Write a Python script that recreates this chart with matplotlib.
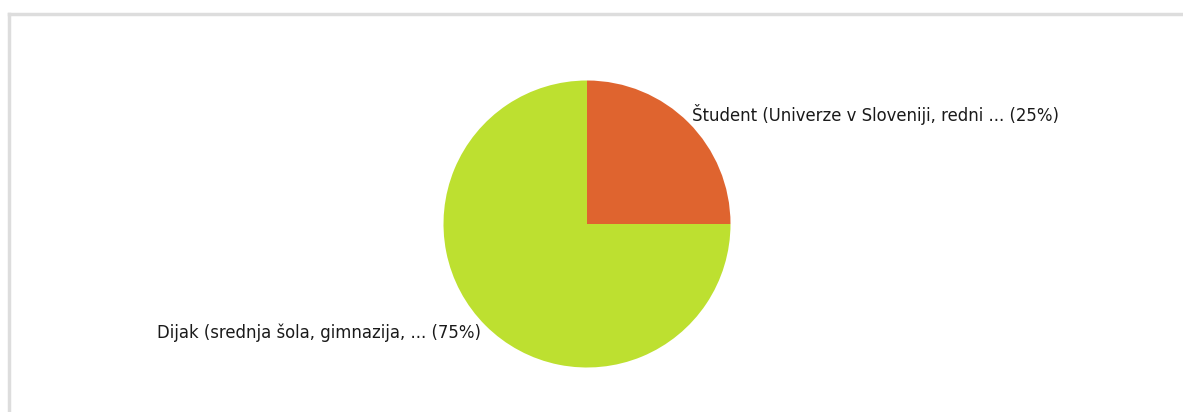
import matplotlib.pyplot as plt
from matplotlib.lines import Line2D

# data
categories = ["Študent (Univerze v Sloveniji, redni ...", "Dijak (srednja šola, gimnazija, ..."]
shares = [25, 75]
colors = ["#DF642F", "#BDE030"]

W, H = 1183, 412
fig = plt.figure(figsize=(W / 100, H / 100), dpi=100)
ax = fig.add_axes([0, 0, 1, 1])

cx, cy, r = 587, H - 224, 143.5
ax.pie(shares, colors=colors, startangle=90, counterclock=False,
       center=(cx, cy), radius=r, frame=True,
       wedgeprops=dict(linewidth=0))
ax.set_xlim(0, W)
ax.set_ylim(0, H)
ax.set_aspect("auto")
ax.axis("off")

# labels
label_pos = [(692, H - 114, "left"), (481, H - 333, "right")]
for cat, val, (x, y, ha) in zip(categories, shares, label_pos):
    ax.text(x, y, f"{cat} ({val}%)", ha=ha, va="center",
            fontsize=11.9, color="#1a1a1a", family="DejaVu Sans")

# panel border (top and left)
fig.add_artist(Line2D([9 / W, 1], [1 - 13.5 / H, 1 - 13.5 / H],
                      transform=fig.transFigure, color="#DDDDDD", lw=2.5))
fig.add_artist(Line2D([9 / W, 9 / W], [0, 1 - 13.5 / H],
                      transform=fig.transFigure, color="#DDDDDD", lw=2.5))

fig.savefig("out.png", dpi=100)
